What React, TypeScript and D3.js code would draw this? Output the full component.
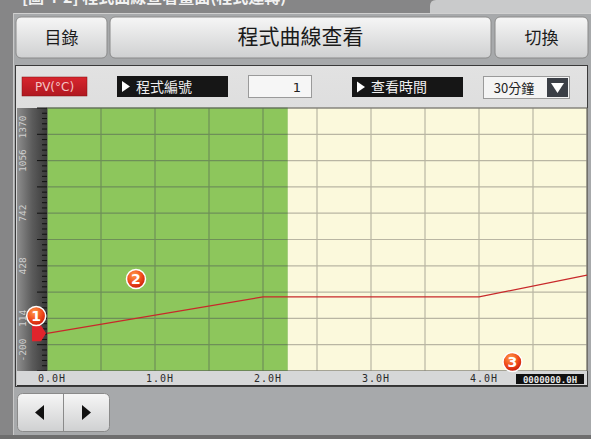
import React from "react";
import * as d3 from "d3";

// ---- data ----
const timeHours = [0, 2, 4, 5];
const pvValues = [25, 242, 242, 372];
const yTickValues = [-200, 114, 428, 742, 1056, 1370];
const xLabelHours = [0, 1, 2, 3, 4];
const elapsedHours = 2.23;
const buttonLabels = ["目錄", "程式曲線查看", "切換"];
const controlLabels = ["PV(°C)", "程式編號", "1", "查看時間", "30分鐘"];
const counterText = "0000000.0H";
const headerText = "[圖 4-2] 程式曲線查看畫面(程式運轉)";
const markers = [
  { n: "1", t: -0.1, v: 128 },
  { n: "2", t: 0.824, v: 349 },
  { n: "3", t: 4.31, v: -146 },
];

const W = 591;
const H = 439;
const PL = 47, PR = 587, PT = 108, PB = 371;

export default function App() {
  const x = d3.scaleLinear().domain([0, 5]).range([PL, PR]);
  const y = d3.scaleLinear().domain([-200, 1370]).range([PB, PT]);
  const gridX = d3.range(0, 5.001, 0.5);
  const gridY = d3.range(-200, 1370.1, 157);
  const minorY = d3.range(-200, 1370.1, 157 / 5);
  const line = d3
    .line<number>()
    .x((_, i) => x(timeHours[i]))
    .y((d) => y(d));
  const cjk = "'Noto Sans CJK TC', 'Noto Sans CJK SC', sans-serif";
  const mono = "'DejaVu Sans Mono', monospace";
  const yLabelPos = (v: number) => Math.min(Math.max(y(v), PT + 19), PB - 21);
  const startY = y(pvValues[0]);

  return (
    <svg width={W} height={H} style={{ position: "absolute", left: 0, top: 0 }} fontFamily={cjk}>
      <defs>
        <linearGradient id="btn" x1="0" y1="0" x2="0" y2="1">
          <stop offset="0" stopColor="#f6f6f6" />
          <stop offset="1" stopColor="#cfd0d1" />
        </linearGradient>
        <linearGradient id="bar" x1="0" y1="0" x2="0" y2="1">
          <stop offset="0" stopColor="#e2e2e2" />
          <stop offset="1" stopColor="#c3c4c5" />
        </linearGradient>
        <linearGradient id="axisStrip" x1="0" y1="0" x2="1" y2="0">
          <stop offset="0" stopColor="#8e8e8e" />
          <stop offset="0.5" stopColor="#5c5c5c" />
          <stop offset="1" stopColor="#3a3a3a" />
        </linearGradient>
        <linearGradient id="pv" x1="0" y1="0" x2="0" y2="1">
          <stop offset="0" stopColor="#d8262e" />
          <stop offset="1" stopColor="#b01820" />
        </linearGradient>
        <radialGradient id="ball" cx="0.4" cy="0.3" r="0.7">
          <stop offset="0" stopColor="#ff9a4a" />
          <stop offset="0.6" stopColor="#f04a1a" />
          <stop offset="1" stopColor="#c81e0e" />
        </radialGradient>
      </defs>

      {/* background */}
      <rect x={0} y={0} width={W} height={H} fill="#868687" />
      <path d="M430,13 L430,6 Q430,0 436,0 L591,0 L591,13 Z" fill="#c9cacb" />
      <text x={22} y={3} fill="#f2f2f2" fontSize={16} fontWeight="bold">{headerText}</text>
      <rect x={13} y={13} width={578} height={422} fill="#a7a9ab" />
      <line x1={13} y1={13.5} x2={591} y2={13.5} stroke="#d0d0d0" />
      <line x1={13.5} y1={13} x2={13.5} y2={435} stroke="#c8c8c8" />
      <rect x={0} y={435} width={W} height={4} fill="#6e6e6e" />

      {/* top buttons */}
      {[
        [16, 91],
        [110, 381],
        [495, 93],
      ].map(([bx, bw], i) => (
        <g key={i}>
          <rect x={bx} y={17} width={bw} height={41} rx={5} fill="url(#btn)" stroke="#8a8a8a" />
          <text
            x={bx + bw / 2}
            y={44}
            textAnchor="middle"
            fontSize={i === 1 ? 21 : 17}
            fill="#1a1a1a"
          >
            {buttonLabels[i]}
          </text>
        </g>
      ))}

      {/* control bar */}
      <rect x={15.5} y={65.5} width={572} height={321} fill="url(#bar)" stroke="#3a3a3a" />
      <rect x={22} y={77} width={65} height={19} fill="url(#pv)" stroke="#801010" strokeWidth={0.5} />
      <text x={54.5} y={91} textAnchor="middle" fontSize={12} fill="#f4c4c4" fontFamily="'DejaVu Sans', sans-serif">
        {controlLabels[0]}
      </text>
      <rect x={117} y={76} width={111} height={21} fill="#161616" />
      <path d="M122,81 L130,86.5 L122,92 Z" fill="#fff" />
      <text x={136} y={92} fontSize={14} fill="#f0f0f0">{controlLabels[1]}</text>
      <rect x={248.5} y={75.5} width={63} height={22} fill="#f6f6f6" stroke="#9a9a9a" />
      <text x={297} y={92} textAnchor="middle" fontSize={13} fill="#222" fontFamily="'DejaVu Sans', sans-serif">
        {controlLabels[2]}
      </text>
      <rect x={352} y={77} width={111} height={20} fill="#161616" />
      <path d="M357,81.5 L365,87 L357,92.5 Z" fill="#fff" />
      <text x={371} y={92} fontSize={14} fill="#f0f0f0">{controlLabels[3]}</text>
      <rect x={483.5} y={76.5} width={86} height={22} fill="#f4f4f4" stroke="#9a9a9a" />
      <text x={514} y={93} textAnchor="middle" fontSize={13} fill="#222">{controlLabels[4]}</text>
      <rect x={547} y={78} width={21} height={19} fill="#3b3f46" />
      <path d="M551,83 L564,83 L557.5,93 Z" fill="#fff" />

      {/* plot backgrounds */}
      <rect x={PL} y={PT} width={x(elapsedHours) - PL} height={PB - PT} fill="#8dc65c" />
      <rect x={x(elapsedHours)} y={PT} width={PR - x(elapsedHours)} height={PB - PT} fill="#fbf9dc" />

      {/* grid */}
      {gridX.map((t) => (
        <line
          key={"gx" + t}
          x1={x(t)}
          x2={x(t)}
          y1={PT}
          y2={PB}
          stroke={t < elapsedHours ? "#6e8f58" : "#b9b6a3"}
          strokeWidth={1.2}
        />
      ))}
      {gridY.map((v) => (
        <g key={"gy" + v}>
          <line x1={PL} x2={x(elapsedHours)} y1={y(v)} y2={y(v)} stroke="#6e8f58" strokeWidth={1.2} />
          <line x1={x(elapsedHours)} x2={PR} y1={y(v)} y2={y(v)} stroke="#b9b6a3" strokeWidth={1.2} />
        </g>
      ))}
      <rect x={PL} y={PT} width={PR - PL} height={PB - PT} fill="none" stroke="#555" strokeWidth={0.8} />

      {/* y axis strip */}
      <rect x={17} y={PT} width={PL - 17} height={PB - PT} fill="url(#axisStrip)" />
      {minorY.map((v, i) => (
        <line
          key={"mt" + i}
          x1={i % 5 === 0 ? 37 : 42}
          x2={PL}
          y1={y(v)}
          y2={y(v)}
          stroke="#111"
          strokeWidth={1}
        />
      ))}
      {yTickValues.map((v) => (
        <text
          key={"yl" + v}
          transform={`translate(26,${yLabelPos(v)}) rotate(-90)`}
          textAnchor="middle"
          fontSize={9.5}
          fill="#cfcfcf"
          fontFamily={mono}
        >
          {v}
        </text>
      ))}

      {/* PV line */}
      <path d={line(pvValues) || ""} fill="none" stroke="#c8282a" strokeWidth={1.2} />
      <path
        d={`M${PL - 15},${startY - 8} L${PL - 6},${startY - 8} L${PL - 1},${startY} L${PL - 6},${startY + 8} L${PL - 15},${startY + 8} Z`}
        fill="#e0242c"
      />

      {/* x label strip */}
      <rect x={17} y={PB} width={PR - 17} height={14} fill="#d6d7d8" />
      <line x1={17} x2={PR} y1={PB + 14.5} y2={PB + 14.5} stroke="#333" />
      {xLabelHours.map((t) => (
        <text
          key={"xl" + t}
          x={x(t) + 5}
          y={PB + 11}
          textAnchor="middle"
          fontSize={10}
          fill="#2a2a2a"
          fontFamily={mono}
          letterSpacing={1}
        >
          {t.toFixed(1) + "H"}
        </text>
      ))}
      <rect x={516} y={PB + 3} width={68} height={10} fill="#111" />
      <text x={550} y={PB + 11.5} textAnchor="middle" fontSize={9} fontWeight="bold" fill="#e8e8e8" fontFamily={mono}>
        {counterText}
      </text>

      {/* annotation balls */}
      {markers.map((m) => (
        <g key={m.n} transform={`translate(${x(m.t)},${y(m.v)})`}>
          <circle r={9.5} fill="url(#ball)" stroke="#fff" strokeWidth={1.5} />
          <text y={5} textAnchor="middle" fontSize={14} fontWeight="bold" fill="#fff" fontFamily="'DejaVu Sans', sans-serif">
            {m.n}
          </text>
        </g>
      ))}

      {/* nav buttons */}
      <rect x={17.5} y={393.5} width={92} height={38} rx={5} fill="url(#btn)" stroke="#8a8a8a" />
      <line x1={63.5} x2={63.5} y1={394} y2={431} stroke="#8a8a8a" />
      <path d="M44,405 L35,412.5 L44,420 Z" fill="#111" />
      <path d="M82,405 L91,412.5 L82,420 Z" fill="#111" />
    </svg>
  );
}
